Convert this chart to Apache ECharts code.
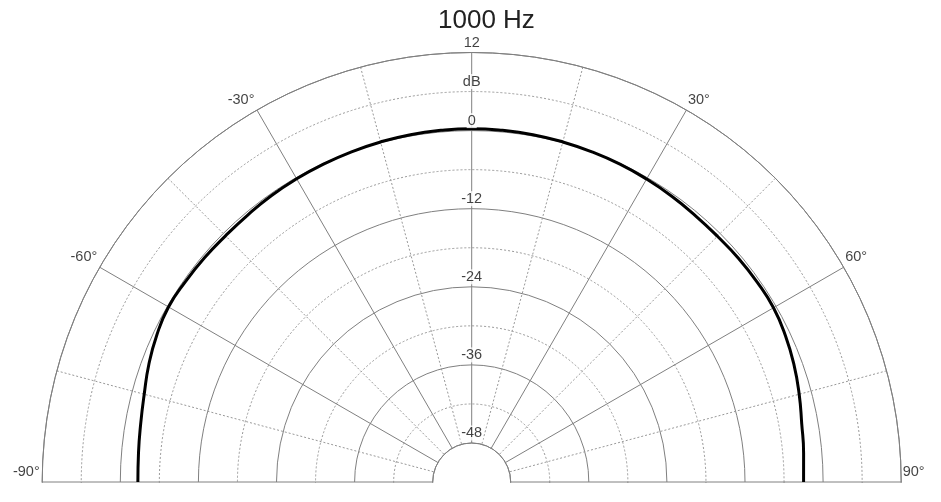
<!DOCTYPE html>
<html><head><meta charset="utf-8">
<script src="https://cdn.jsdelivr.net/npm/echarts@6.0.0/dist/echarts.min.js"></script>
<style>html,body{margin:0;padding:0;background:#fff}#c{width:941px;height:502px}</style>
</head><body><div id="c"></div>
<script>
const titleText = '1000 Hz';
const angles = [-90,-85,-80,-75,-70,-65,-60,-55,-50,-45,-40,-35,-30,-25,-20,-15,-10,-5,0,5,10,15,20,25,30,35,40,45,50,55,60,65,70,75,80,85,90];
const levels = [-2.7,-2.6,-2.35,-1.9,-1.2,-0.6,-0.2,-0.3,-0.4,-0.5,-0.45,-0.3,-0.2,-0.1,0.0,0.1,0.2,0.25,0.3,0.25,0.2,0.1,0.0,-0.1,-0.25,-0.4,-0.55,-0.6,-0.5,-0.45,-0.45,-0.8,-1.3,-1.9,-2.5,-2.8,-3.0];
const ringValues = [12, 6, 0, -12, -24, -36, -48];
const ringLabels = ['12', 'dB', '0', '-12', '-24', '-36', '-48'];
const angleTickValues = [-90, -60, -30, 30, 60, 90];
const angleTickLabels = ['-90°', '-60°', '-30°', '30°', '60°', '90°'];

const FONT = 'Liberation Sans, Arial, sans-serif';
const chart = echarts.init(document.getElementById('c'), null, {renderer: 'canvas'});

const curve = angles.map((a, i) => [levels[i], a]);
const ringData = ringValues.map((v, i) => ({value: [v, 0], labelText: ringLabels[i]}));
const angleData = angleTickValues.map((a, i) => ({
  value: [12, a],
  labelText: angleTickLabels[i],
  label: {
    position: a < 0 ? [-2, -10] : [2, -10],
    align: a < 0 ? 'right' : 'left',
    verticalAlign: 'middle'
  }
}));

chart.setOption({
  animation: false,
  backgroundColor: '#fff',
  title: {
    text: titleText,
    left: 433,
    top: 3,
    textStyle: {fontFamily: FONT, fontSize: 26, fontWeight: 'normal', color: '#222'}
  },
  graphic: [{
    type: 'rect', z: 100,
    shape: {x: 0, y: 483, width: 941, height: 19},
    style: {fill: '#fff'}
  }],
  polar: {center: [471.7, 482], radius: [39, 429.5]},
  angleAxis: {
    type: 'value', min: -90, max: 90, interval: 30,
    startAngle: 180, endAngle: 0, clockwise: true,
    axisLine: {show: true, lineStyle: {color: '#808080', width: 1}},
    axisTick: {show: false},
    axisLabel: {show: false},
    splitLine: {show: true, lineStyle: {color: '#808080', width: 1}},
    minorTick: {show: false, splitNumber: 2},
    minorSplitLine: {show: true, lineStyle: {color: '#999', width: 1, type: [2, 2]}}
  },
  radiusAxis: {
    type: 'value', min: -48, max: 12, interval: 12,
    axisLine: {show: false},
    axisTick: {show: false},
    axisLabel: {show: false},
    splitLine: {show: true, lineStyle: {color: '#808080', width: 1}},
    minorTick: {show: false, splitNumber: 2},
    minorSplitLine: {show: true, lineStyle: {color: '#999', width: 1, type: [2, 2]}}
  },
  series: [
    {
      type: 'line', coordinateSystem: 'polar', data: curve,
      smooth: true, showSymbol: false, symbol: 'none',
      lineStyle: {color: '#000', width: 3}, z: 5
    },
    {
      type: 'scatter', coordinateSystem: 'polar', data: ringData,
      symbolSize: 1, itemStyle: {color: 'rgba(0,0,0,0)'}, z: 10,
      label: {
        show: true, position: 'top', distance: 2,
        formatter: p => p.data.labelText,
        fontFamily: FONT, fontSize: 14.5, color: '#111',
        backgroundColor: '#fff', padding: [0, 1]
      }
    },
    {
      type: 'scatter', coordinateSystem: 'polar', data: angleData,
      symbolSize: 1, itemStyle: {color: 'rgba(0,0,0,0)'}, z: 10,
      label: {
        show: true,
        formatter: p => p.data.labelText,
        fontFamily: FONT, fontSize: 14.5, color: '#111'
      }
    }
  ]
});
</script>
</body></html>
